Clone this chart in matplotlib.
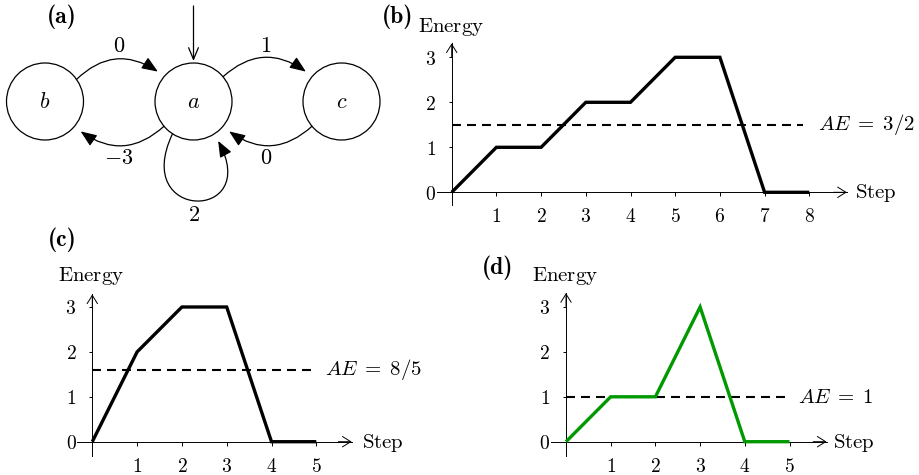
import matplotlib
matplotlib.use("Agg")
import matplotlib.pyplot as plt
from matplotlib.patches import Circle, FancyArrowPatch
from matplotlib.path import Path
from matplotlib.ticker import FuncFormatter
import numpy as np

plt.rcParams["mathtext.fontset"] = "cm"
plt.rcParams["font.size"] = 15

W, H = 919, 475

# (b) energy along the run
steps_b = [0, 1, 2, 3, 4, 5, 6, 7, 8]
energy_b = [0, 1, 1, 2, 2, 3, 3, 0, 0]
ae_b = 3 / 2
ae_text_b = "3/2"

# (c)
steps_c = [0, 1, 2, 3, 4, 5]
energy_c = [0, 2, 3, 3, 0, 0]
ae_c = 8 / 5
ae_text_c = "8/5"

# (d)
steps_d = [0, 1, 2, 3, 4, 5]
energy_d = [0, 1, 1, 3, 0, 0]
ae_d = 1
ae_text_d = "1"

energy_ticks = [0, 1, 2, 3]

# (a) automaton: states and weighted edges
states = ["b", "a", "c"]
initial_state = "a"
edges = [("b", "a", "0"), ("a", "c", "1"), ("a", "b", "-3"),
         ("c", "a", "0"), ("a", "a", "2")]

GREEN = "#009900"

fig = plt.figure(figsize=(W / 100, H / 100), dpi=100)

# overlay in pixel coordinates for the diagram and free labels
bg = fig.add_axes([0, 0, 1, 1])
bg.set_xlim(0, W)
bg.set_ylim(H, 0)
bg.axis("off")

# ---- panel (a) ----
node_xy = {"b": (45, 101.5), "a": (193.5, 101.5), "c": (341.5, 101.5)}
R = 38.5
edge_geom = [
    dict(out=35, inn=140, label=(119, 46)),
    dict(out=40, inn=140, label=(266, 46)),
    dict(out=220, inn=-40, label=(119, 158)),
    dict(out=220, inn=-40, label=(266, 158)),
    dict(out=237, inn=302, label=(193.5, 215)),
]


def border(name, ang, dist):
    x, y = node_xy[name]
    t = np.radians(ang)
    return (x + dist * np.cos(t), y - dist * np.sin(t))


head = "-|>,head_length=0.7,head_width=0.28"
for s in states:
    bg.add_patch(Circle(node_xy[s], R, fill=False, lw=0.9, ec="black"))
    bg.text(*node_xy[s], f"${s}$", ha="center", va="center", fontsize=16)

for (src, dst, w), g in zip(edges, edge_geom):
    p0 = border(src, g["out"], R)
    p1 = border(dst, g["inn"], R + 8)
    if src == dst:
        verts = [p0, (p0[0] - 42, 222), (p1[0] + 44, 222), p1]
        arr = FancyArrowPatch(path=Path(verts, [Path.MOVETO, Path.CURVE4, Path.CURVE4, Path.CURVE4]),
                              arrowstyle=head, mutation_scale=14, lw=0.9, color="black")
    else:
        arr = FancyArrowPatch(p0, p1, connectionstyle="arc3,rad=-0.4", arrowstyle=head,
                              mutation_scale=14, lw=0.9, color="black", shrinkA=0, shrinkB=0)
    bg.add_patch(arr)
    bg.text(*g["label"], f"${w}$", ha="center", va="center", fontsize=16)

ix, iy = node_xy[initial_state]
bg.add_patch(FancyArrowPatch((ix, 6), (ix, iy - R - 2), arrowstyle="->,head_length=0.6,head_width=0.25",
                             mutation_scale=14, lw=0.9, color="black", shrinkA=0, shrinkB=0))

# panel letters and axis names
for txt, x, y in [("(a)", 61.7, 16.7), ("(b)", 398, 16.7), ("(c)", 62.5, 240), ("(d)", 497.5, 267.5)]:
    bg.text(x, y, txt, ha="center", va="center", fontsize=17, family="cmb10")
for x, y in [(418, 31.7), (58.3, 281), (531.7, 281)]:
    bg.text(x, y, r"$\mathrm{Energy}$", ha="left", va="baseline")
for x, y in [(855, 198.3), (361.7, 448.3), (833.3, 448.3)]:
    bg.text(x, y, r"$\mathrm{Step}$", ha="left", va="baseline")


def energy_panel(origin, scale, xlim, ylim, steps, energy, ae, ae_text, ae_end, label_x, color):
    ox, oy = origin
    sx, sy = scale
    left, right = ox + xlim[0] * sx, ox + xlim[1] * sx
    top, bottom = oy - ylim[1] * sy, oy - ylim[0] * sy
    ax = fig.add_axes([left / W, 1 - bottom / H, (right - left) / W, (bottom - top) / H])
    ax.set_xlim(xlim)
    ax.set_ylim(ylim)
    ax.patch.set_alpha(0)
    for s in ("top", "right"):
        ax.spines[s].set_visible(False)
    for s in ("left", "bottom"):
        ax.spines[s].set_position(("data", 0))
        ax.spines[s].set_linewidth(0.7)
    ax.plot(steps, energy, color=color, lw=2.4, solid_joinstyle="miter",
            solid_capstyle="butt", clip_on=False, zorder=3)
    ax.plot([0, ae_end], [ae, ae], color="black", lw=1.5, ls=(0, (4.3, 2.9)), zorder=2)
    ax.text(label_x, ae, r"$AE\;=\;%s$" % ae_text, ha="left", va="center")
    ax.set_xticks(steps[1:])
    ax.set_yticks(energy_ticks)
    fmt = FuncFormatter(lambda v, p: f"${v:g}$")
    ax.xaxis.set_major_formatter(fmt)
    ax.yaxis.set_major_formatter(fmt)
    ax.tick_params(axis="x", direction="out", length=2.7, width=0.7, pad=8, labelsize=14)
    ax.tick_params(axis="y", direction="out", length=2.4, width=0.7, pad=9, labelsize=14)
    arrow = dict(arrowstyle="->,head_length=0.4,head_width=0.25", lw=0.7, color="black",
                 shrinkA=0, shrinkB=0)
    ax.annotate("", xy=(xlim[1], 0), xytext=(xlim[1] - 0.3, 0), arrowprops=arrow, annotation_clip=False)
    ax.annotate("", xy=(0, ylim[1]), xytext=(0, ylim[1] - 0.3), arrowprops=arrow, annotation_clip=False)
    return ax


energy_panel((451.7, 192.3), (44.7, 45.0), (-0.336, 8.84), (-0.28, 3.31),
             steps_b, energy_b, ae_b, ae_text_b, 7.86, 8.19, "black")
energy_panel((92.3, 441.7), (44.8, 44.9), (-0.348, 5.79), (-0.32, 3.28),
             steps_c, energy_c, ae_c, ae_text_c, 5.01, 5.19, "black")
energy_panel((566.0, 441.7), (44.7, 44.9), (-0.336, 5.83), (-0.32, 3.31),
             steps_d, energy_d, ae_d, ae_text_d, 5.01, 5.19, GREEN)

fig.savefig("out.png", dpi=100)
